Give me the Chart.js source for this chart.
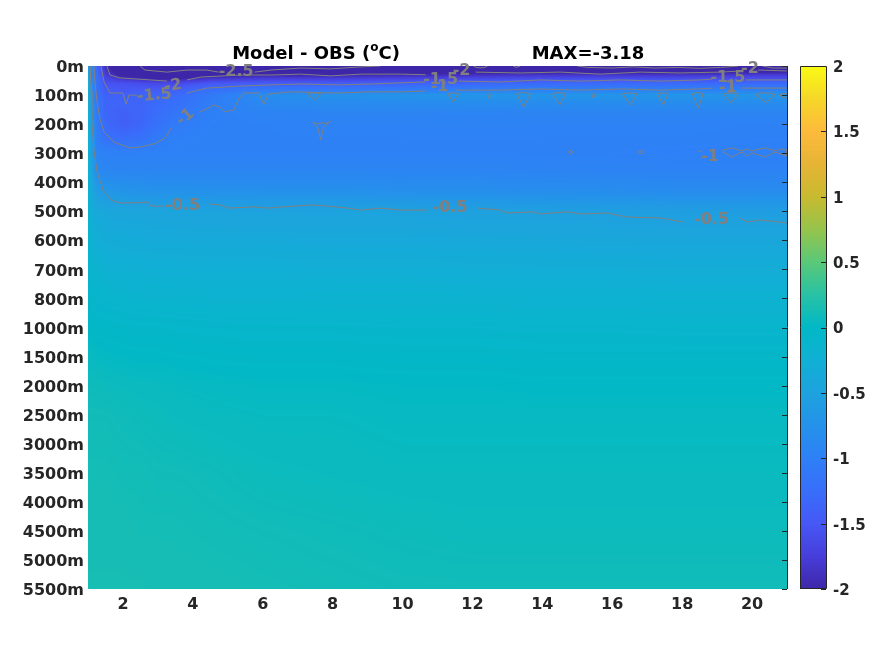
<!DOCTYPE html>
<html lang="en">
<head>
<meta charset="utf-8" />
<title>Model - OBS (oC)</title>
<script src="https://cdn.jsdelivr.net/npm/chart.js@4.4.0/dist/chart.umd.min.js"></script>
<style>
    html, body { margin: 0; padding: 0; background: #fff; }
    #wrap { position: relative; width: 875px; height: 656px; font-family: "DejaVu Sans", sans-serif; }
    .ttl { position: absolute; top: 43px; font-weight: bold; font-size: 18px; line-height: 20px; color: #000; transform: translateX(-50%); white-space: nowrap; }
    .ttl sup { font-size: 12px; vertical-align: 0; position: relative; top: -8px; }
</style>
</head>
<body>
<div id="wrap">
    <canvas id="c" width="875" height="656"></canvas>
    <div class="ttl" style="left:316px">Model - OBS (<sup>o</sup>C)</div>
    <div class="ttl" style="left:588px">MAX=-3.18</div>
</div>
<script>
// axis labels
const depthLabels = ['0m','100m','200m','300m','400m','500m','600m','700m','800m','1000m','1500m','2000m','2500m','3000m','3500m','4000m','4500m','5000m','5500m'];
const xTicks = [2, 4, 6, 8, 10, 12, 14, 16, 18, 20];
const cbTicks = [-2, -1.5, -1, -0.5, 0, 0.5, 1, 1.5, 2];
const cbLabels = ['-2', '-1.5', '-1', '-0.5', '0', '0.5', '1', '1.5', '2'];

// field grid (x = column, y = depth level index)
const xCols = [1, 1.1, 1.25, 1.5, 2, 2.5, 3, 3.5, 4.5, 6, 8, 10, 12, 14, 16, 18, 20, 21];
const depthRows = [0, 0.3, 0.6, 0.85, 1.0, 1.2, 1.6, 2.0, 2.5, 3.0, 3.6, 4.3, 5.0, 6, 7, 8, 9, 10, 11, 12, 14, 16, 18];
const field = [
    [-0.6, -0.9, -1.3, -1.9, -2.4, -2.55, -2.9, -2.9, -2.7, -2.6, -2.55, -2.5, -2.5, -2.5, -2.5, -2.5, -2.45, -2.45],
    [-0.4, -0.85, -1.25, -1.75, -2.1, -2.2, -2.3, -2.3, -2.1, -2.0, -2.0, -1.95, -1.9, -1.85, -1.85, -1.85, -1.8, -1.8],
    [-0.3, -0.8, -1.2, -1.55, -1.55, -1.6, -1.65, -1.65, -1.5, -1.45, -1.45, -1.4, -1.35, -1.3, -1.3, -1.3, -1.3, -1.3],
    [-0.25, -0.75, -1.2, -1.45, -1.5, -1.45, -1.45, -1.4, -1.2, -1.05, -1.05, -1.0, -0.98, -0.95, -0.95, -0.95, -0.95, -0.95],
    [-0.25, -0.7, -1.2, -1.4, -1.4, -1.35, -1.35, -1.3, -1.1, -0.8, -0.75, -0.72, -0.7, -0.7, -0.7, -0.7, -0.7, -0.7],
    [-0.25, -0.7, -1.15, -1.35, -1.35, -1.35, -1.3, -1.25, -1.05, -0.87, -0.82, -0.82, -0.8, -0.8, -0.8, -0.8, -0.8, -0.8],
    [-0.25, -0.65, -1.1, -1.35, -1.4, -1.35, -1.25, -1.15, -1.0, -0.95, -0.94, -0.94, -0.93, -0.94, -0.94, -0.94, -0.94, -0.94],
    [-0.25, -0.62, -1.05, -1.3, -1.42, -1.35, -1.2, -1.07, -0.99, -0.98, -0.97, -0.97, -0.96, -0.97, -0.97, -0.97, -0.98, -0.98],
    [-0.25, -0.6, -1.02, -1.2, -1.25, -1.2, -1.06, -1.0, -0.98, -0.98, -0.98, -0.98, -0.98, -0.98, -0.98, -0.98, -0.99, -0.99],
    [-0.25, -0.55, -0.95, -0.98, -0.99, -0.98, -0.98, -0.98, -0.98, -0.98, -0.98, -0.98, -0.98, -0.98, -0.99, -1.0, -1.0, -1.0],
    [-0.22, -0.48, -0.85, -0.92, -0.93, -0.93, -0.93, -0.93, -0.93, -0.93, -0.93, -0.93, -0.93, -0.94, -0.95, -0.96, -0.96, -0.96],
    [-0.2, -0.4, -0.58, -0.68, -0.72, -0.74, -0.76, -0.76, -0.77, -0.78, -0.78, -0.79, -0.8, -0.82, -0.82, -0.84, -0.84, -0.84],
    [-0.18, -0.3, -0.38, -0.42, -0.44, -0.45, -0.46, -0.47, -0.48, -0.49, -0.49, -0.5, -0.52, -0.53, -0.55, -0.56, -0.57, -0.57],
    [-0.15, -0.22, -0.28, -0.32, -0.34, -0.35, -0.36, -0.36, -0.37, -0.37, -0.38, -0.38, -0.39, -0.4, -0.41, -0.42, -0.42, -0.42],
    [-0.1, -0.15, -0.18, -0.22, -0.24, -0.25, -0.26, -0.26, -0.27, -0.27, -0.28, -0.28, -0.29, -0.3, -0.3, -0.31, -0.31, -0.31],
    [-0.05, -0.08, -0.1, -0.12, -0.14, -0.15, -0.16, -0.16, -0.17, -0.17, -0.18, -0.18, -0.19, -0.2, -0.2, -0.21, -0.21, -0.21],
    [0.0, -0.02, -0.03, -0.04, -0.05, -0.06, -0.06, -0.07, -0.08, -0.09, -0.09, -0.1, -0.1, -0.11, -0.11, -0.12, -0.12, -0.12],
    [0.05, 0.04, 0.03, 0.02, 0.01, 0.0, 0.0, -0.01, -0.02, -0.03, -0.03, -0.04, -0.04, -0.05, -0.05, -0.05, -0.05, -0.05],
    [0.08, 0.08, 0.08, 0.07, 0.06, 0.05, 0.05, 0.04, 0.03, 0.02, 0.02, 0.01, 0.01, 0.0, 0.0, 0.0, 0.0, 0.0],
    [0.1, 0.1, 0.1, 0.1, 0.09, 0.08, 0.07, 0.06, 0.05, 0.04, 0.04, 0.03, 0.03, 0.03, 0.03, 0.03, 0.03, 0.03],
    [0.12, 0.12, 0.12, 0.12, 0.11, 0.11, 0.1, 0.1, 0.09, 0.07, 0.06, 0.05, 0.05, 0.05, 0.05, 0.05, 0.05, 0.05],
    [0.13, 0.13, 0.13, 0.13, 0.13, 0.12, 0.12, 0.12, 0.11, 0.1, 0.09, 0.08, 0.07, 0.07, 0.07, 0.07, 0.07, 0.07],
    [0.14, 0.14, 0.14, 0.14, 0.14, 0.14, 0.13, 0.13, 0.13, 0.12, 0.11, 0.1, 0.1, 0.1, 0.1, 0.1, 0.1, 0.1]
];

// contour lines, [x, depth level index], one array per piece
const cM25 = [
    [[2.49,0],[2.63,0.14],[3.26,0.21],[3.83,0.14],[4.4,0.14],[4.74,0.21]],
    [[5.77,0.21],[6.23,0.14],[7.09,0.07],[7.94,0.1],[8.8,0.03],[9.37,0]],
    [[12.03,0],[12.13,0.06],[12.33,0.06],[12.43,0]],
    [[13.17,0],[13.25,0.05],[13.37,0]],
    [[15.0,0],[15.3,0.05],[16.0,0.07],[16.6,0.03],[17.2,0.07],[17.9,0.05],[18.5,0.08],[19.1,0.05],[19.6,0]],
    [[20.3,0],[20.6,0.07],[21,0.07]]
];
const cM2 = [
    [[1.54,0],[1.63,0.31],[1.91,0.41],[2.8,0.48],[3.26,0.52]],
    [[3.83,0.48],[4.23,0.38],[5.37,0.31],[6.23,0.31],[7.09,0.28],[7.94,0.34],[8.8,0.28],[9.94,0.28],[10.66,0.3]],
    [[12.09,0.21],[13.37,0.24],[14.51,0.21],[15.66,0.28],[16.8,0.21],[17.94,0.24],[19.09,0.21],[19.71,0.17]],
    [[20.17,0.14],[21,0.17]]
];
const cM15 = [
    [[1.37,0],[1.46,0.55],[1.63,0.93],[2.0,0.93],[2.09,1.31],[2.17,1.0],[2.4,1.0]],
    [[3.83,0.93],[4.4,0.76],[5.37,0.69],[6.23,0.65],[7.09,0.62],[8.11,0.65],[9.09,0.62],[9.94,0.58],[10.66,0.55]],
    [[11.6,0.52],[12.8,0.55],[13.94,0.48],[15.09,0.52],[16.23,0.48],[17.37,0.52],[18.51,0.48],[18.86,0.45]],
    [[19.83,0.48],[21,0.48]]
];
const cM1 = [
    [[1.17,0],[1.2,0.55],[1.26,1.24],[1.34,1.82],[1.46,2.27],[1.74,2.62],[2.2,2.82],[2.49,2.79],[2.74,2.72],[2.89,2.68],[3.17,2.51],[3.31,2.27],[3.4,2.1]],
    [[4.2,1.58],[4.4,1.48],[4.6,1.34],[4.77,1.41],[4.91,1.58],[5.17,1.51],[5.31,1.14],[5.46,0.93],[5.89,0.93],[6.03,1.31],[6.17,0.96],[6.8,0.89],[8.11,0.93],[9.09,0.89],[9.94,0.89],[10.66,0.86]],
    [[11.51,0.83],[12.8,0.83],[13.94,0.79],[15.09,0.83],[16.23,0.79],[17.37,0.83],[18.51,0.79],[18.86,0.76]],
    [[19.71,0.76],[21,0.76]],
    [[7.43,1.93],[7.57,2.1],[7.66,2.55],[7.74,2.1],[7.94,1.9],[7.8,1.98],[7.69,1.95],[7.57,2.0],[7.43,1.93]],
    [[14.74,2.96],[14.81,2.9],[14.89,2.96],[14.81,3.03],[14.74,2.96]],
    [[16.74,2.96],[16.83,2.9],[16.91,2.96],[16.83,3.03],[16.74,2.96]],
    [[18.46,2.92],[18.57,2.96]],
    [[19.17,2.89],[19.43,2.82],[19.71,2.92],[19.86,2.86],[20.0,2.92],[20.37,2.82],[20.66,2.92],[20.83,2.86],[21,2.89],
     [21,3.1],[20.83,3.03],[20.66,2.96],[20.37,3.13],[20.0,2.99],[19.86,3.1],[19.71,2.96],[19.43,3.13],[19.17,2.96],[19.17,2.89]]
];
const cM05 = [
    [[1.06,0],[1.09,0.83],[1.11,1.86],[1.17,2.89],[1.26,3.65],[1.43,4.27],[1.66,4.61],[1.89,4.71],[2.37,4.71],[2.71,4.68],[2.8,4.82],[3.17,4.82]],
    [[4.46,4.75],[4.8,4.78],[5.0,4.89],[5.74,4.85],[6.14,4.89],[6.89,4.82],[7.46,4.78],[8.43,4.89],[8.8,4.96],[9.37,4.89],[9.94,4.96],[10.71,4.96]],
    [[12.14,4.89],[12.8,4.96],[13.0,5.06],[13.74,5.02],[13.94,5.09],[14.71,5.02],[15.09,5.09],[15.86,5.06],[16.43,5.2],[17.37,5.23],[18.03,5.37]],
    [[19.66,5.23],[19.86,5.37],[20.23,5.3],[21,5.4]],
    // small loops at 100m
    [[7.29,0.96],[7.4,0.93],[7.55,0.93],[7.66,0.96],[7.48,1.17],[7.29,0.96]],
    [[11.29,0.96],[11.38,0.93],[11.5,0.93],[11.6,0.96],[11.45,1.24],[11.29,0.96]],
    [[12.43,0.98],[12.47,0.95],[12.51,0.98],[12.47,1.1],[12.43,0.98]],
    [[13.26,0.96],[13.38,0.92],[13.54,0.92],[13.66,0.96],[13.47,1.41],[13.26,0.96]],
    [[14.29,0.96],[14.4,0.92],[14.55,0.92],[14.66,0.96],[14.5,1.34],[14.29,0.96]],
    [[15.4,0.98],[15.46,0.95],[15.51,0.98],[15.46,1.1],[15.4,0.98]],
    [[16.29,0.96],[16.42,0.93],[16.58,0.93],[16.71,0.96],[16.52,1.34],[16.29,0.96]],
    [[17.29,0.96],[17.38,0.93],[17.5,0.93],[17.6,0.96],[17.46,1.34],[17.29,0.96]],
    [[18.29,0.96],[18.38,0.92],[18.5,0.92],[18.6,0.96],[18.46,1.45],[18.29,0.96]],
    [[19.17,0.96],[19.3,0.93],[19.47,0.93],[19.6,0.96],[19.4,1.27],[19.17,0.96]],
    [[20.09,0.98],[20.25,0.93],[20.5,0.93],[20.66,0.98],[20.4,1.27],[20.09,0.98]],
    [[21,0.94],[20.85,0.95],[20.8,1.0],[20.85,1.08],[21,1.1]]
];

// contour labels
const labelText = ['-0.5', '-0.5', '-0.5', '-1', '-1.5', '-2', '-2.5', '-1.5', '-1', '-2', '-1.5', '-1', '-2', '-1'];
const labelX = [3.71, 11.36, 18.84, 3.79, 2.9, 3.43, 5.24, 11.09, 11.06, 11.69, 19.31, 19.31, 19.94, 18.8];
const labelY = [4.82, 4.87, 5.30, 1.77, 1.02, 0.69, 0.21, 0.48, 0.72, 0.17, 0.41, 0.76, 0.10, 3.11];
const labelTilt = [0, 0, 0, -40, -5, -10, 0, 0, 0, 0, 0, 0, 0, 0];

const cMin = -2, cMax = 2;
const parulaStops = [
    [62,38,168],[71,62,218],[70,88,245],[56,110,250],[46,128,246],[36,146,234],[30,162,222],[16,176,212],[2,184,198],
    [40,194,164],[90,200,120],[150,196,76],[200,186,48],[230,180,54],[253,186,60],[245,215,40],[249,250,20]
];

function parula(v) {
    let t = (v - cMin) / (cMax - cMin) * (parulaStops.length - 1);
    t = Math.max(0, Math.min(parulaStops.length - 1, t));
    const i = Math.min(parulaStops.length - 2, Math.floor(t));
    const f = t - i, a = parulaStops[i], b = parulaStops[i + 1];
    return [a[0] + (b[0] - a[0]) * f, a[1] + (b[1] - a[1]) * f, a[2] + (b[2] - a[2]) * f];
}

function locate(arr, v) {
    let i = 0;
    while (i < arr.length - 2 && arr[i + 1] <= v) i++;
    const f = Math.max(0, Math.min(1, (v - arr[i]) / (arr[i + 1] - arr[i])));
    return [i, f];
}

function sample(xv, yv) {
    const [i, fx] = locate(xCols, xv);
    const [j, fy] = locate(depthRows, yv);
    const top = field[j][i] * (1 - fx) + field[j][i + 1] * fx;
    const bot = field[j + 1][i] * (1 - fx) + field[j + 1][i + 1] * fx;
    return top * (1 - fy) + bot * fy;
}

function toPoints(segs) {
    const pts = [];
    segs.forEach((s, k) => {
        if (k) pts.push({ x: null, y: null });
        s.forEach(p => pts.push({ x: p[0], y: p[1] }));
    });
    return pts;
}

const heatmap = {
    id: 'heatmap',
    beforeDatasetsDraw(chart) {
        const { ctx, chartArea: a, scales: { x, y } } = chart;
        const w = Math.round(a.right - a.left), h = Math.round(a.bottom - a.top);
        const off = document.createElement('canvas');
        off.width = w; off.height = h;
        const octx = off.getContext('2d');
        const img = octx.createImageData(w, h);
        const xv = [];
        for (let px = 0; px < w; px++) xv.push(x.getValueForPixel(a.left + px + 0.5));
        for (let py = 0; py < h; py++) {
            const yv = y.getValueForPixel(a.top + py + 0.5);
            for (let px = 0; px < w; px++) {
                const c = parula(sample(xv[px], yv));
                const k = (py * w + px) * 4;
                img.data[k] = c[0]; img.data[k + 1] = c[1]; img.data[k + 2] = c[2]; img.data[k + 3] = 255;
            }
        }
        octx.putImageData(img, 0, 0);
        ctx.drawImage(off, a.left, a.top);
    },
    afterDatasetsDraw(chart) {
        const { ctx, chartArea: a, scales: { x, y, cb } } = chart;
        // contour labels
        ctx.save();
        ctx.fillStyle = '#808080';
        ctx.font = 'bold 16px "DejaVu Sans"';
        ctx.textAlign = 'center';
        ctx.textBaseline = 'middle';
        labelText.forEach((t, i) => {
            ctx.save();
            ctx.translate(x.getPixelForValue(labelX[i]), y.getPixelForValue(labelY[i]));
            ctx.rotate(labelTilt[i] * Math.PI / 180);
            ctx.fillText(t, 0, 0);
            ctx.restore();
        });
        ctx.restore();

        // right frame line and inward ticks
        ctx.save();
        ctx.strokeStyle = '#262626';
        ctx.lineWidth = 1;
        ctx.beginPath();
        ctx.moveTo(a.right + 0.5, a.top);
        ctx.lineTo(a.right + 0.5, a.bottom);
        depthLabels.forEach((_, i) => {
            const py = Math.round(y.getPixelForValue(i)) + 0.5;
            ctx.moveTo(a.right, py);
            ctx.lineTo(a.right - 5, py);
        });
        ctx.stroke();

        // colorbar
        const cx = Math.round(a.right) + 13, cw = 26;
        for (let py = Math.round(a.top); py < Math.round(a.bottom); py++) {
            const c = parula(cb.getValueForPixel(py + 0.5));
            ctx.fillStyle = 'rgb(' + c.map(Math.round).join(',') + ')';
            ctx.fillRect(cx, py, cw, 1);
        }
        ctx.beginPath();
        ctx.rect(cx + 0.5, Math.round(a.top) + 0.5, cw, Math.round(a.bottom - a.top) - 1);
        cbTicks.forEach(t => {
            const py = Math.round(cb.getPixelForValue(t)) + 0.5;
            ctx.moveTo(cx + cw, py);
            ctx.lineTo(cx + cw - 5, py);
        });
        ctx.stroke();
        ctx.restore();
    }
};

Chart.defaults.font.family = '"DejaVu Sans", sans-serif';

const tickFont = { family: '"DejaVu Sans"', size: 16, weight: 'bold' };

new Chart(document.getElementById('c'), {
    type: 'scatter',
    data: {
        datasets: [cM25, cM2, cM15, cM1, cM05].map(segs => ({
            data: toPoints(segs),
            showLine: true,
            borderColor: '#808080',
            borderWidth: 1,
            pointRadius: 0,
            pointHitRadius: 0,
            tension: 0,
            spanGaps: false,
            fill: false
        }))
    },
    options: {
        responsive: false,
        animation: false,
        devicePixelRatio: 1,
        events: [],
        layout: { padding: { top: 66, left: 0, right: 0, bottom: 0 } },
        plugins: { legend: { display: false }, tooltip: { enabled: false } },
        scales: {
            x: {
                type: 'linear', position: 'bottom', min: 1, max: 21,
                grid: { display: false, drawTicks: false },
                border: { display: false },
                ticks: { font: tickFont, color: '#262626', padding: 6, maxRotation: 0 },
                afterBuildTicks: ax => { ax.ticks = xTicks.map(v => ({ value: v })); },
                afterFit: ax => { ax.height = 67; }
            },
            y: {
                type: 'linear', position: 'left', min: 0, max: depthLabels.length - 1, reverse: true,
                grid: { display: false, drawTicks: false },
                border: { display: false },
                ticks: { font: tickFont, color: '#262626', padding: 4, labelOffset: 2, callback: (v, i) => depthLabels[i] },
                afterBuildTicks: ax => { ax.ticks = depthLabels.map((_, i) => ({ value: i })); },
                afterFit: ax => { ax.width = 88; }
            },
            cb: {
                type: 'linear', position: 'right', min: cMin, max: cMax, display: true,
                grid: { display: false, drawTicks: false },
                border: { display: false },
                ticks: { font: { family: '"DejaVu Sans"', size: 15, weight: 'bold' }, color: '#262626', padding: 46, labelOffset: 2, callback: (v, i) => cbLabels[i] },
                afterBuildTicks: ax => { ax.ticks = cbTicks.map(v => ({ value: v })); },
                afterFit: ax => { ax.width = 88; }
            }
        }
    },
    plugins: [heatmap]
});
</script>
</body>
</html>
